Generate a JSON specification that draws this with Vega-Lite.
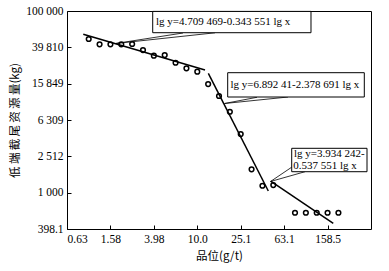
{
  "$schema": "https://vega.github.io/schema/vega-lite/v6.json",
  "width": 304,
  "height": 218,
  "autosize": {"type": "none"},
  "padding": {"left": 67, "top": 11, "right": 18, "bottom": 42},
  "background": "white",
  "config": {
    "view": {"stroke": "black", "strokeWidth": 1},
    "axis": {
      "domain": false,
      "grid": false,
      "tickColor": "black",
      "tickSize": -4,
      "tickWidth": 1,
      "labelPadding": 8,
      "labelFont": "Liberation Serif",
      "labelFontSize": 11.5,
      "labelColor": "black",
      "titleFont": "Noto Sans CJK SC",
      "titleFontSize": 11.5,
      "titleFontWeight": "normal",
      "titleColor": "black"
    }
  },
  "datasets": {
    "pts": [
      {"x": 1, "y": 49200}, {"x": 1.259, "y": 42950}, {"x": 1.585, "y": 42950},
      {"x": 1.995, "y": 42950}, {"x": 2.512, "y": 43350}, {"x": 3.162, "y": 37150},
      {"x": 3.981, "y": 32200}, {"x": 5.012, "y": 32700}, {"x": 6.31, "y": 26950},
      {"x": 7.943, "y": 23400}, {"x": 10, "y": 21500}, {"x": 12.59, "y": 15700},
      {"x": 15.85, "y": 11590}, {"x": 19.95, "y": 7780}, {"x": 25.12, "y": 4420},
      {"x": 31.62, "y": 1806}, {"x": 39.81, "y": 1191}, {"x": 50.12, "y": 1213},
      {"x": 79.43, "y": 601}, {"x": 100, "y": 601}, {"x": 125.9, "y": 601},
      {"x": 158.5, "y": 601}, {"x": 199.5, "y": 601}
    ],
    "fits": [
      {"seg": "a", "x": 0.891, "y": 55350}, {"seg": "a", "x": 11.78, "y": 22410},
      {"seg": "b", "x": 12.64, "y": 20610}, {"seg": "b", "x": 45.1, "y": 1043},
      {"seg": "c", "x": 47.4, "y": 1344}, {"seg": "c", "x": 178.9, "y": 460}
    ],
    "leaders": [
      {"x": 1.765, "y": 43870, "x2": 7.386, "y2": 57260},
      {"x": 1.765, "y": 43870, "x2": 14.56, "y2": 57540},
      {"x": 17.81, "y": 9585, "x2": 35.48, "y2": 11220},
      {"x": 17.81, "y": 9585, "x2": 68.46, "y2": 11300},
      {"x": 47.25, "y": 1327, "x2": 74.55, "y2": 1917},
      {"x": 47.25, "y": 1327, "x2": 98.2, "y2": 1701}
    ],
    "boxes": [
      {"x": 3.886, "y": 99000, "x2": 111.5, "y2": 57680},
      {"x": 19.06, "y": 20930, "x2": 345.4, "y2": 11300},
      {"x": 74.07, "y": 3079, "x2": 365.8, "y2": 1701}
    ],
    "labels": [
      {"x": 4.167, "y": 76420, "t": "lg y=4.709 469-0.343 551 lg x"},
      {"x": 20.23, "y": 15320, "t": "lg y=6.892 41-2.378 691 lg x"},
      {"x": 77.78, "y": 2665, "t": "lg y=3.934 242-"},
      {"x": 76.5, "y": 1991, "t": "0.537 551 lg x"}
    ]
  },
  "encoding": {
    "x": {
      "field": "x",
      "type": "quantitative",
      "scale": {"type": "log", "domain": [0.630957, 398.107], "nice": false, "zero": false},
      "axis": {
        "title": "品位(g/t)",
        "titlePadding": 6,
        "values": [0.630957, 1.584893, 3.981072, 10, 25.118864, 63.095734, 158.489319, 398.107171],
        "labelExpr": "datum.value < 1 ? '0.63' : datum.value < 2 ? '1.58' : datum.value < 5 ? '3.98' : datum.value < 15 ? '10.0' : datum.value < 40 ? '25.1' : datum.value < 100 ? '63.1' : datum.value < 250 ? '158.5' : '398.1'",
        "encode": {"labels": {"update": {"dx": {"signal": "datum.value < 1 ? 11 : datum.value > 300 ? -3 : (datum.value > 9 && datum.value < 11) ? -2 : 1"}}}}
      }
    },
    "y": {
      "field": "y",
      "type": "quantitative",
      "scale": {"type": "log", "domain": [398.107171, 100000], "nice": false, "zero": false},
      "axis": {
        "title": "低\u2009端\u2009截\u2009尾\u2009资\u2009源\u2009量(kg)",
        "titlePadding": 5,
        "values": [398.107171, 1000, 2511.886432, 6309.573445, 15848.93192, 39810.71706, 100000],
        "labelExpr": "datum.value < 500 ? '398.1' : datum.value < 1500 ? '1 000' : datum.value < 4000 ? '2 512' : datum.value < 10000 ? '6 309' : datum.value < 25000 ? '15 849' : datum.value < 60000 ? '39 810' : '100 000'"
      }
    }
  },
  "layer": [
    {
      "data": {"name": "fits"},
      "mark": {"type": "line", "color": "black", "strokeWidth": 1.5},
      "encoding": {"detail": {"field": "seg", "type": "nominal"}}
    },
    {
      "data": {"name": "pts"},
      "mark": {"type": "point", "shape": "circle", "filled": false, "stroke": "black", "strokeWidth": 1.5, "size": 22, "opacity": 1}
    },
    {
      "data": {"name": "leaders"},
      "mark": {"type": "rule", "color": "black", "strokeWidth": 0.8},
      "encoding": {"x2": {"field": "x2"}, "y2": {"field": "y2"}}
    },
    {
      "data": {"name": "boxes"},
      "mark": {"type": "rect", "fill": "white", "stroke": "black", "strokeWidth": 1},
      "encoding": {"x2": {"field": "x2"}, "y2": {"field": "y2"}}
    },
    {
      "data": {"name": "labels"},
      "mark": {"type": "text", "align": "left", "baseline": "middle", "font": "Liberation Serif", "fontSize": 11, "color": "black"},
      "encoding": {"text": {"field": "t", "type": "nominal"}}
    }
  ]
}
